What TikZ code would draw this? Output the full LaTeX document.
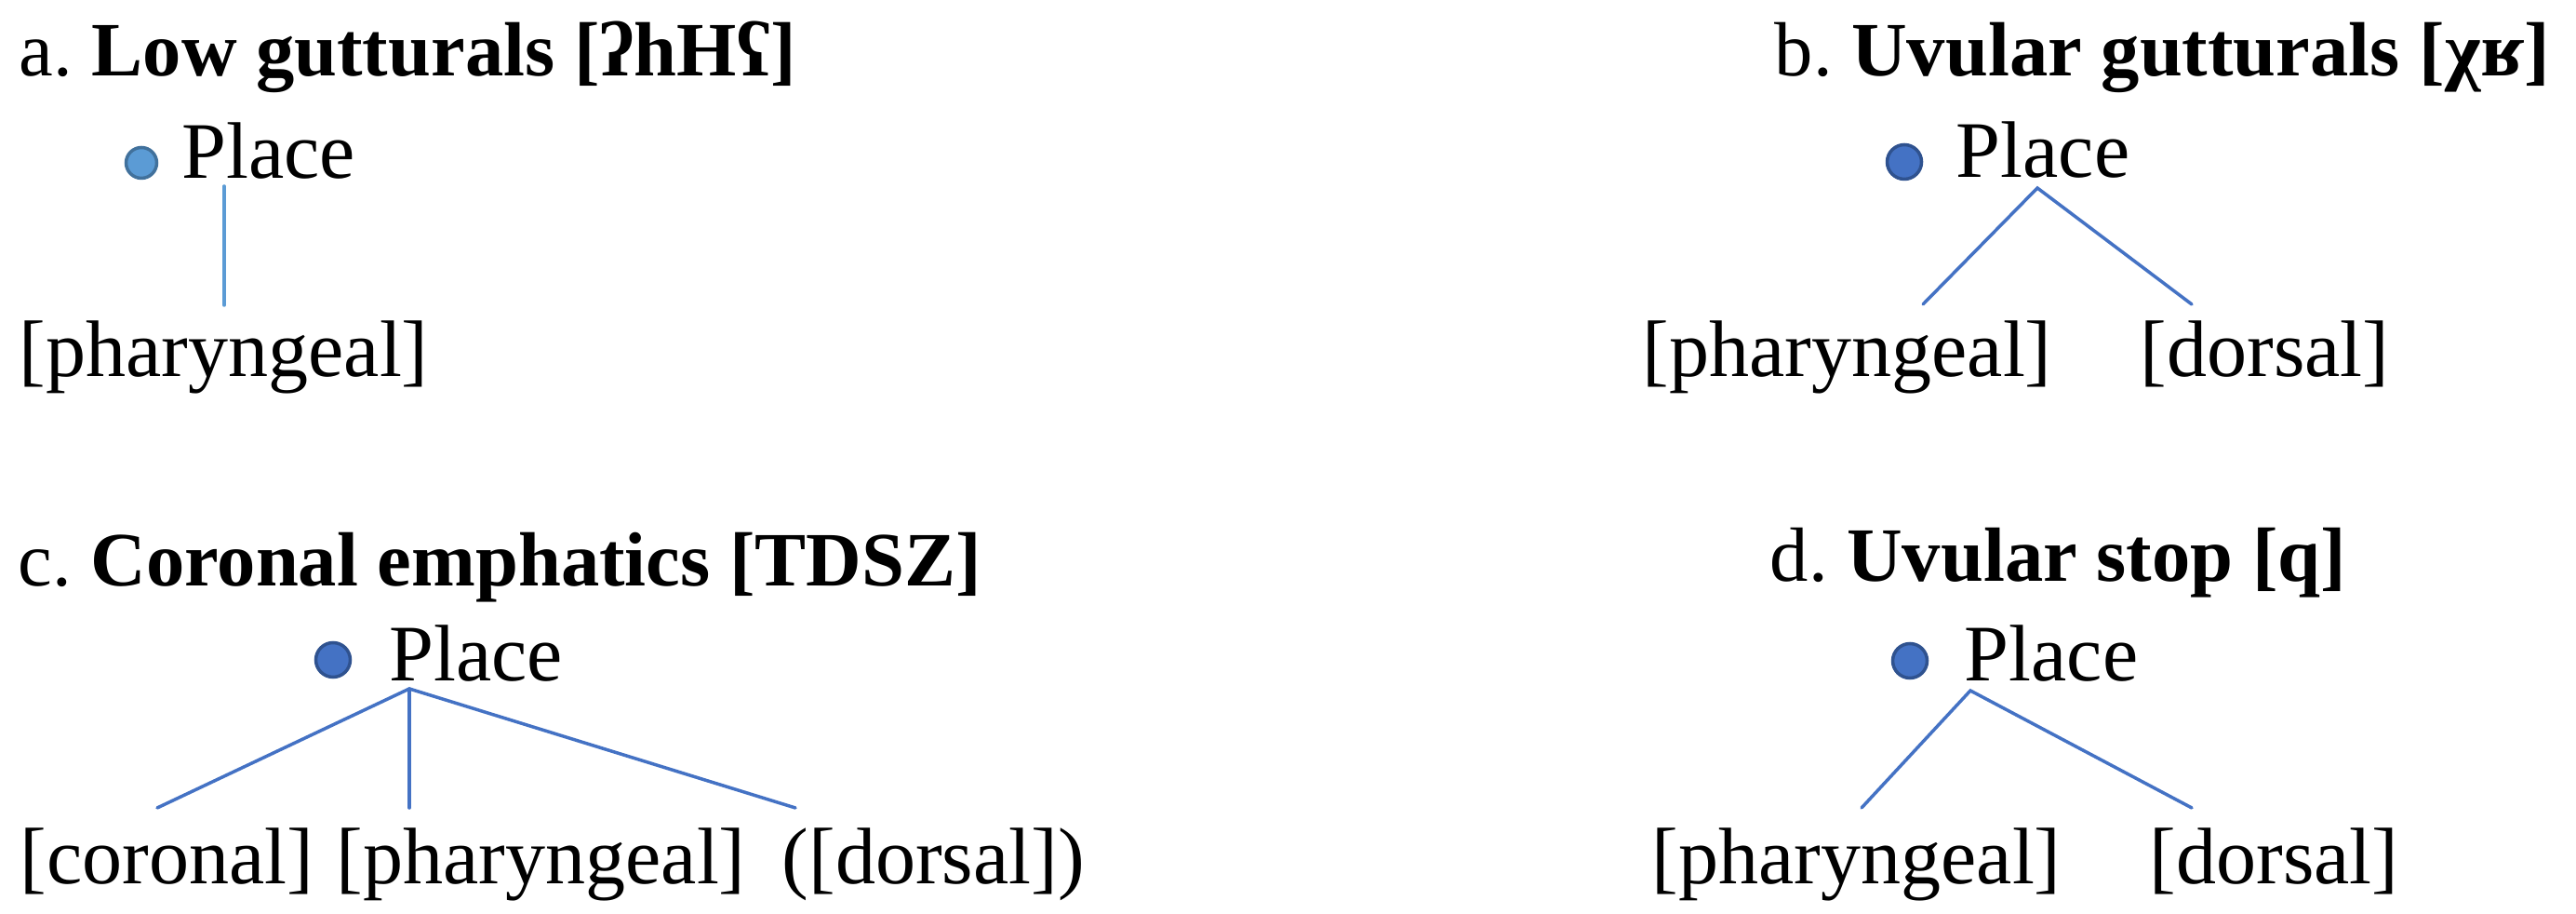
\documentclass[tikz,border=0pt]{standalone}
\usepackage{fontspec}
\setmainfont{Liberation Serif}
\usetikzlibrary{positioning}

\definecolor{dotblue}{HTML}{4472C4}
\definecolor{dotedge}{HTML}{2F528F}
\definecolor{dotlight}{HTML}{5B9BD5}
\definecolor{dotlightedge}{HTML}{41719C}
\definecolor{branchblue}{HTML}{4472C4}

\begin{document}
\frenchspacing
\begin{tikzpicture}[
    % Global Styles
    font=\fontsize{24.5}{29}\selectfont,
    % Text nodes sit on their baseline
    heading/.style={inner sep=0pt, anchor=base west, font=\fontsize{23.5}{28}\selectfont},
    feat/.style={inner sep=0pt, anchor=base west},
    % Place dot
    place_dot/.style={circle, fill=dotblue, draw=dotedge, line width=1pt, minimum size=0.37cm, inner sep=0pt},
    place_dot_light/.style={place_dot, fill=dotlight, draw=dotlightedge, minimum size=0.33cm},
    % Tree branches
    branch/.style={line width=1pt, draw=branchblue, line cap=round},
    branch_light/.style={branch, draw=dotlight}
]
\useasboundingbox (0,0) rectangle (27.69,9.82);

%% --- PANEL A: LOW GUTTURALS ---
\node[heading] (headA) at (0.20, 9.00) {a. \textbf{Low gutturals [ʔhHʕ]}};
\node[place_dot_light] (dotA) at (1.52, 8.07) {};
\node[feat] (placeA) at (1.95, 7.90) {Place};
\node[feat] (pharA) at (0.20, 5.77) {[pharyngeal]};

\coordinate (topA) at (2.41, 7.82);
\coordinate (endA) at (2.41, 6.54);
\draw[branch_light] (topA) -- (endA);

%% --- PANEL B: UVULAR GUTTURALS ---
\node[heading] (headB) at (19.07, 9.00) {b. \textbf{Uvular gutturals [χʁ]}};
\node[place_dot] (dotB) at (20.47, 8.08) {};
\node[feat] (placeB) at (21.02, 7.91) {Place};
\node[feat] (pharB) at (17.65, 5.77) {[pharyngeal]};
\node[feat] (dorsB) at (23.00, 5.77) {[dorsal]};

\coordinate (topB) at (21.90, 7.80);
\coordinate (endB1) at (20.67, 6.55);
\coordinate (endB2) at (23.56, 6.55);
\draw[branch] (endB1) -- (topB) -- (endB2);

%% --- PANEL C: CORONAL EMPHATICS ---
\node[heading] (headC) at (0.19, 3.52) {c. \textbf{Coronal emphatics [TDSZ]}};
\node[place_dot] (dotC) at (3.58, 2.73) {};
\node[feat] (placeC) at (4.18, 2.50) {Place};
\node[feat] (corC) at (0.21, 0.32) {[coronal]};
\node[feat] (pharC) at (3.61, 0.32) {[pharyngeal]};
\node[feat] (dorsC) at (8.40, 0.32) {([dorsal])};

\coordinate (topC) at (4.40, 2.42);
\coordinate (endC1) at (1.69, 1.14);
\coordinate (endC2) at (4.40, 1.14);
\coordinate (endC3) at (8.55, 1.14);
\draw[branch] (topC) -- (endC1);
\draw[branch] (topC) -- (endC2);
\draw[branch] (topC) -- (endC3);

%% --- PANEL D: UVULAR STOP ---
\node[heading] (headD) at (19.02, 3.57) {d. \textbf{Uvular stop [q]}};
\node[place_dot] (dotD) at (20.53, 2.72) {};
\node[feat] (placeD) at (21.11, 2.50) {Place};
\node[feat] (pharD) at (17.75, 0.32) {[pharyngeal]};
\node[feat] (dorsD) at (23.10, 0.32) {[dorsal]};

\coordinate (topD) at (21.18, 2.40);
\coordinate (endD1) at (20.01, 1.14);
\coordinate (endD2) at (23.56, 1.14);
\draw[branch] (endD1) -- (topD) -- (endD2);

\end{tikzpicture}
\end{document}
